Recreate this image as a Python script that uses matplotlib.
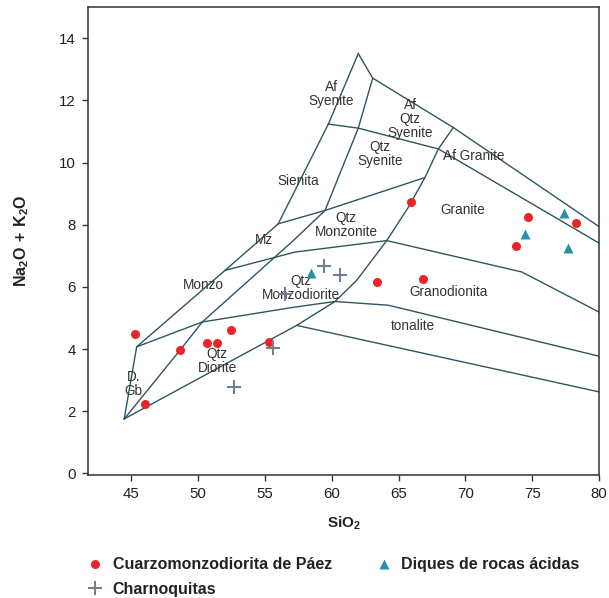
import matplotlib
matplotlib.use("Agg")
import matplotlib.pyplot as plt
from matplotlib.lines import Line2D

plt.rcParams['font.family'] = ['Liberation Sans', 'DejaVu Sans']
plt.rcParams['mathtext.fontset'] = 'custom'
plt.rcParams['mathtext.rm'] = 'Liberation Sans'
plt.rcParams['mathtext.bf'] = 'Liberation Sans:bold'

# ---- data (SiO2, Na2O+K2O) ----
paez_x = [45.3, 48.65, 50.7, 51.4, 52.5, 55.3, 46.0, 65.9, 63.4, 66.85, 74.7, 73.8, 78.3]
paez_y = [4.47, 3.96, 4.18, 4.18, 4.61, 4.22, 2.22, 8.72, 6.15, 6.26, 8.26, 7.33, 8.07]

charno_x = [59.45, 60.6, 56.5, 55.6, 52.7]
charno_y = [6.67, 6.37, 5.78, 4.04, 2.78]

diques_x = [58.45, 74.45, 77.4, 77.7]
diques_y = [6.45, 7.7, 8.37, 7.24]

# classification boundaries (vertices)
bnd_outer_left_x = [44.48, 45.41, 52.02, 56.0, 59.75, 61.99]
bnd_outer_left_y = [1.75, 4.07, 6.53, 8.03, 11.24, 13.51]
bnd_outer_right_x = [61.99, 63.07, 69.1, 80.0]
bnd_outer_right_y = [13.51, 12.72, 11.13, 7.94]
bnd_afgranite_x = [59.75, 61.99, 67.98, 80.0]
bnd_afgranite_y = [11.24, 11.11, 10.44, 7.41]
bnd_curveB_x = [44.48, 48.65, 50.32, 57.13, 59.5, 61.99, 63.07]
bnd_curveB_y = [1.75, 3.96, 4.87, 7.49, 8.46, 11.11, 12.72]
bnd_D_x = [56.0, 59.5, 66.98]
bnd_D_y = [8.03, 8.46, 9.52]
bnd_granite_x = [57.38, 60.25, 61.87, 64.12, 65.73, 66.98, 67.98, 69.1]
bnd_granite_y = [4.76, 5.53, 6.21, 7.49, 8.56, 9.52, 10.44, 11.13]
bnd_bottom_x = [44.48, 57.38, 80.0]
bnd_bottom_y = [1.75, 4.76, 2.62]
bnd_E_x = [52.02, 57.25, 64.12, 74.22, 80.0]
bnd_E_y = [6.53, 7.12, 7.49, 6.48, 5.19]
bnd_F_x = [45.41, 50.32, 57.25, 60.25, 64.23, 80.0]
bnd_F_y = [4.07, 4.87, 5.35, 5.53, 5.41, 3.77]

field_names = ["Af\nSyenite", "Af\nQtz\nSyenite", "Qtz\nSyenite", "Af Granite", "Granite",
               "Sienita", "Qtz\nMonzonite", "Mz", "Monzo", "Qtz\nMonzodiorite",
               "Qtz\nDiorite", "D.\nGb", "Granodionita", "tonalite"]
field_x = [60.0, 65.86, 63.6, 70.6, 69.77, 57.5, 61.07, 54.93, 50.39, 57.7,
           51.43, 45.15, 68.72, 66.11]
field_y = [12.2, 11.4, 10.29, 10.22, 8.48, 9.4, 8.0, 7.52, 6.07, 5.95,
           3.61, 2.88, 5.83, 4.73]

xticks = [45, 50, 55, 60, 65, 70, 75, 80]
yticks = [0, 2, 4, 6, 8, 10, 12, 14]

# ---- figure ----
fig = plt.figure(figsize=(6.09, 5.98), dpi=100)
ax = fig.add_axes([0.1445, 0.2065, 0.8391, 0.7813])

line_col = '#2f5560'
boundaries = [
    (bnd_outer_left_x, bnd_outer_left_y),
    (bnd_outer_right_x, bnd_outer_right_y),
    (bnd_afgranite_x, bnd_afgranite_y),
    (bnd_curveB_x, bnd_curveB_y),
    (bnd_D_x, bnd_D_y),
    (bnd_granite_x, bnd_granite_y),
    (bnd_bottom_x, bnd_bottom_y),
    (bnd_E_x, bnd_E_y),
    (bnd_F_x, bnd_F_y),
]
for bx, by in boundaries:
    ax.plot(bx, by, color=line_col, lw=1.0, zorder=2, solid_joinstyle='miter')

for name, tx, ty in zip(field_names, field_x, field_y):
    ax.text(tx, ty, name, fontsize=9.8, color='#333333', ha='center', va='center',
            linespacing=1.0, zorder=3)

red = '#e8262a'
teal = '#2a90a8'
grey = '#6e8291'
ax.plot(paez_x, paez_y, 'o', color=red, ms=6.5, mec='none', zorder=4)
ax.plot(charno_x, charno_y, '+', color=grey, ms=10, mew=1.5, zorder=4)
ax.plot(diques_x, diques_y, '^', color=teal, ms=7.5, mec='none', zorder=4)

ax.set_xlim(41.77, 80.0)
ax.set_ylim(-0.04, 15.0)
ax.set_xticks(xticks)
ax.set_yticks(yticks)
ax.tick_params(direction='out', length=4, width=1, colors='#333333', labelsize=10.8,
               labelcolor='#222222', pad=5)
for s in ax.spines.values():
    s.set_color('#333333')
    s.set_linewidth(1.1)

ax.set_xlabel(r'$\mathbf{SiO_2}$', fontsize=11, color='#222222', labelpad=10)
ax.set_ylabel(r'$\mathbf{Na_2O\,+\,K_2O}$', fontsize=11.5, color='#222222', labelpad=20)

handles = [
    Line2D([], [], marker='o', ls='none', color=red, ms=6.5, mec='none'),
    Line2D([], [], marker='+', ls='none', color=grey, ms=10, mew=1.5),
    Line2D([], [], marker='^', ls='none', color=teal, ms=7.5, mec='none'),
]
labels = ['Cuarzomonzodiorita de Páez', 'Charnoquitas', 'Diques de rocas ácidas']
leg = fig.legend(handles, labels, loc='upper left', bbox_to_anchor=(0.143, 0.068),
                 bbox_transform=fig.transFigure, ncol=2, frameon=False,
                 prop={'weight': 'bold', 'size': 11.5}, handlelength=1.0,
                 handletextpad=0.6, columnspacing=2.75, labelspacing=0.6,
                 borderaxespad=0, borderpad=0)
for t in leg.get_texts():
    t.set_color('#222222')

fig.savefig('out.png', dpi=100)
